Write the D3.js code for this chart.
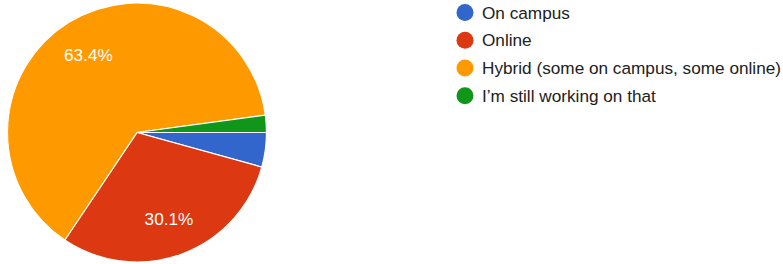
<!DOCTYPE html>
<html>
<head>
<meta charset="utf-8">
<script src="https://cdn.jsdelivr.net/npm/d3@7"></script>
<style>
  html, body { margin: 0; padding: 0; background: #fff; }
  svg { display: block; font-family: Arial, "Liberation Sans", sans-serif; }
</style>
</head>
<body>
<div id="chart"></div>
<script>
// response counts per option
const categories = ["On campus", "Online", "Hybrid (some on campus, some online)", "I\u2019m still working on that"];
const counts = [4, 28, 59, 2];
const colors = ["#3366cc", "#dc3912", "#ff9900", "#109618"];

const width = 783;
const height = 264;
const cx = 137;
const cy = 132.5;
const radius = 129.5;

const svg = d3.select("#chart")
  .append("svg")
  .attr("width", width)
  .attr("height", height);

const data = categories.map((c, i) => ({ name: c, value: counts[i], color: colors[i] }));
const total = d3.sum(counts);

// slices go clockwise starting from 3 o'clock
const pie = d3.pie()
  .sort(null)
  .value(d => d.value)
  .startAngle(Math.PI / 2)
  .endAngle(Math.PI / 2 + 2 * Math.PI);

const arc = d3.arc()
  .innerRadius(0)
  .outerRadius(radius);

const labelArc = d3.arc()
  .innerRadius(radius * 0.71)
  .outerRadius(radius * 0.71);

const g = svg.append("g")
  .attr("transform", `translate(${cx},${cy})`);

g.selectAll("path")
  .data(pie(data))
  .enter()
  .append("path")
  .attr("d", arc)
  .attr("fill", d => d.data.color)
  .attr("stroke", "#fff")
  .attr("stroke-width", 1.2);

// only label the bigger slices, like the original
g.selectAll("text")
  .data(pie(data).filter(d => d.data.value / total > 0.05))
  .enter()
  .append("text")
  .attr("transform", d => `translate(${labelArc.centroid(d)})`)
  .attr("text-anchor", "middle")
  .attr("dy", "0.36em")
  .attr("fill", "#fff")
  .style("font-size", "17.2px")
  .text(d => (d.data.value / total * 100).toFixed(1) + "%");

// legend
const legendY = d3.scalePoint()
  .domain(categories)
  .range([12.5, 95.7]);

const legend = svg.append("g")
  .selectAll("g")
  .data(data)
  .enter()
  .append("g")
  .attr("transform", d => `translate(465,${legendY(d.name)})`);

legend.append("circle")
  .attr("r", 8.5)
  .attr("fill", d => d.color);

legend.append("text")
  .attr("x", 17)
  .attr("dy", "0.36em")
  .attr("fill", "#212121")
  .style("font-size", "17.2px")
  .text(d => d.name);
</script>
</body>
</html>
